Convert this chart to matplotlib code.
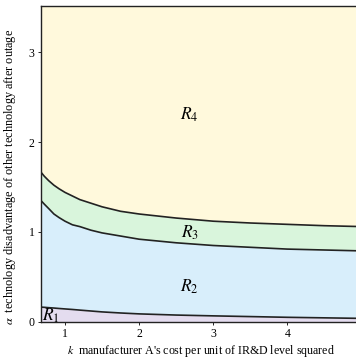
import numpy as np
import matplotlib
matplotlib.use("Agg")
import matplotlib.pyplot as plt

plt.rcParams['font.family'] = ['Liberation Serif', 'DejaVu Serif']
plt.rcParams['mathtext.fontset'] = 'stix'

# values
k = [0.68, 0.72, 0.78, 0.85, 0.92, 1.0, 1.1, 1.2, 1.35, 1.5, 1.75, 2.0, 2.5, 3.0, 3.5, 4.0, 4.5, 5.0]
upper = [1.66, 1.62, 1.57, 1.52, 1.48, 1.44, 1.40, 1.36, 1.32, 1.28, 1.23, 1.20, 1.155, 1.12, 1.10, 1.085, 1.07, 1.06]
middle = [1.345, 1.31, 1.26, 1.20, 1.16, 1.12, 1.08, 1.06, 1.02, 0.99, 0.955, 0.92, 0.88, 0.85, 0.83, 0.81, 0.80, 0.79]
lower = [0.165, 0.163, 0.159, 0.155, 0.15, 0.145, 0.139, 0.132, 0.122, 0.112, 0.10, 0.09, 0.077, 0.068, 0.060, 0.052, 0.046, 0.040]

x_ticks = [1, 2, 3, 4]
y_ticks = [0, 1, 2, 3]
y_top = 3.51

fig = plt.figure(figsize=(3.56, 3.6), dpi=100)
ax = fig.add_axes([0.115, 0.1056, 0.9, 0.8774])

ax.fill_between(k, 0, lower, color='#e4dcef', lw=0)
ax.fill_between(k, lower, middle, color='#d8eefb', lw=0)
ax.fill_between(k, middle, upper, color='#d9f5dc', lw=0)
ax.fill_between(k, upper, y_top, color='#fff9dc', lw=0)

for c in (lower, middle, upper):
    ax.plot(k, c, color='#222222', lw=1.2)

ax.set_xlim(0.675, 5.0)
ax.set_ylim(0, y_top)
ax.set_xticks(x_ticks)
ax.set_yticks(y_ticks)
ax.tick_params(labelsize=8.5, length=2.5, width=0.6, pad=2)
for s in ax.spines.values():
    s.set_color('#222222')
    s.set_linewidth(1.0)
ax.spines['right'].set_visible(False)

ax.text(2.68, 2.3, '$R_4$', fontsize=12.5, ha='center', va='center')
ax.text(2.69, 0.99, '$R_3$', fontsize=12.5, ha='center', va='center')
ax.text(2.68, 0.39, '$R_2$', fontsize=12.5, ha='center', va='center')
ax.text(0.81, 0.07, '$R_1$', fontsize=12.5, ha='center', va='center')

ax.set_xlabel("$k$  manufacturer A's cost per unit of IR&D level squared", fontsize=8.6)
ax.xaxis.set_label_coords(0.5, -0.068)
ax.set_ylabel(r"$\alpha$  technology disadvantage of other technology after outage", fontsize=8.8)
ax.yaxis.set_label_coords(-0.072, 0.46)

fig.savefig('out.png', dpi=100)
